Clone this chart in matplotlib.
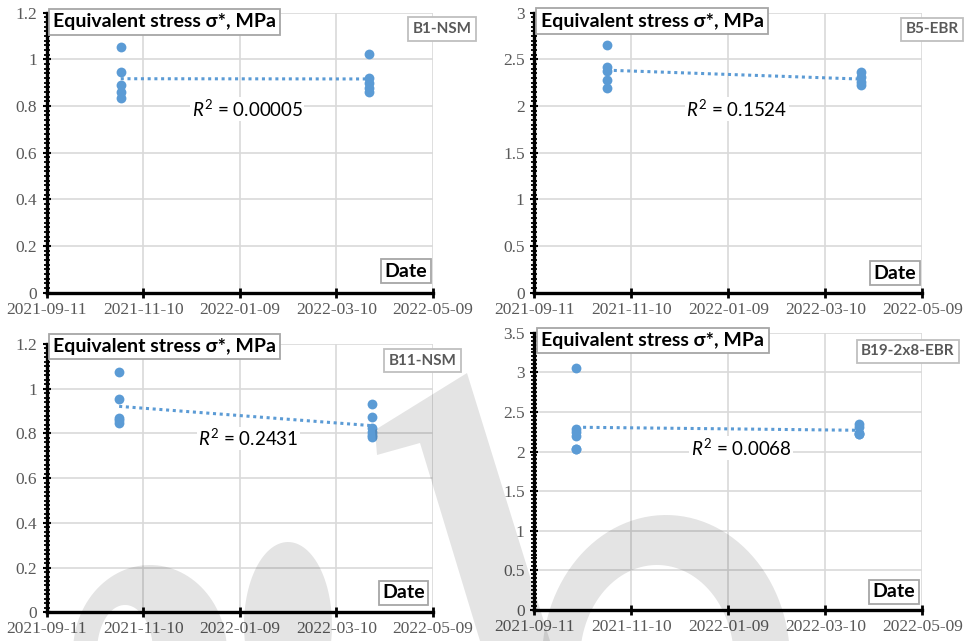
import matplotlib
matplotlib.use("Agg")
import matplotlib.pyplot as plt
import matplotlib.dates as mdates
from matplotlib.ticker import MultipleLocator, FuncFormatter
from matplotlib.patches import PathPatch
from matplotlib.path import Path
import numpy as np
import datetime as dt

plt.rcParams['font.family'] = ['Liberation Serif', 'DejaVu Serif']
plt.rcParams['mathtext.fontset'] = 'custom'
plt.rcParams['mathtext.rm'] = 'Lato'
plt.rcParams['mathtext.it'] = 'Lato:italic'

# ---- data ----
labels = ["B1-NSM", "B5-EBR", "B11-NSM", "B19-2x8-EBR"]
r2_labels = ["0.00005", "0.1524", "0.2431", "0.0068"]

b1_dates = ["2021-10-27"] * 5 + ["2022-03-30"] * 5
b1_vals = [1.053, 0.947, 0.89, 0.86, 0.835, 1.022, 0.922, 0.898, 0.878, 0.86]

b5_dates = ["2021-10-26"] * 5 + ["2022-04-01"] * 4
b5_vals = [2.65, 2.42, 2.38, 2.28, 2.19, 2.36, 2.31, 2.26, 2.225]

b11_dates = ["2021-10-26"] * 5 + ["2022-04-01"] * 6
b11_vals = [1.075, 0.955, 0.868, 0.86, 0.848, 0.93, 0.872, 0.823, 0.808, 0.793, 0.783]

b19_dates = ["2021-10-07"] * 6 + ["2022-03-31"] * 5
b19_vals = [3.05, 2.28, 2.25, 2.20, 2.03, 2.03, 2.35, 2.31, 2.24, 2.22, 2.22]

y_max = [1.2, 3.0, 1.2, 3.5]
y_step = [0.2, 0.5, 0.2, 0.5]
x_ticks = ["2021-09-11", "2021-11-10", "2022-01-09", "2022-03-10", "2022-05-09"]

series = [(b1_dates, b1_vals), (b5_dates, b5_vals), (b11_dates, b11_vals), (b19_dates, b19_vals)]

# ---- layout (figure fractions) ----
positions = [
    [0.0482, 0.5434, 0.3987, 0.4368],
    [0.5514, 0.5434, 0.4004, 0.4368],
    [0.0482, 0.0448, 0.3987, 0.4185],
    [0.5514, 0.0484, 0.4004, 0.4326],
]
title_pos = [(0.016, 0.967), (0.016, 0.97), (0.016, 0.99), (0.018, 0.972)]
label_pos = [(1.023, 0.942), (1.025, 0.94), (0.972, 0.938), (0.963, 0.933)]
date_pos = [(0.9295, 0.076), (0.93, 0.07), (0.924, 0.073), (0.927, 0.066)]
r2_pos = [(0.519, 0.656), (0.5216, 0.656), (0.522, 0.648), (0.533, 0.585)]

blue = "#5b9bd5"
grid_c = "#d9d9d9"
tick_c = "#595959"

W, H = 969, 641
fig = plt.figure(figsize=(W / 100, H / 100), dpi=100)

xt = [dt.datetime.strptime(s, "%Y-%m-%d") for s in x_ticks]

for i, (dates, vals) in enumerate(series):
    ax = fig.add_axes(positions[i])
    d = [dt.datetime.strptime(s, "%Y-%m-%d") for s in dates]
    xn = mdates.date2num(d)
    v = np.array(vals)
    ax.scatter(d, v, s=50, color=blue, zorder=4, linewidths=0)
    # linear trendline
    k, b = np.polyfit(xn, v, 1)
    xs = np.array([xn.min(), xn.max()])
    ax.plot(mdates.num2date(xs), k * xs + b, linestyle=(0, (1, 1.2)), color=blue,
            lw=2.2, zorder=3)

    ax.set_xlim(xt[0], xt[-1])
    ax.set_ylim(0, y_max[i])
    ax.set_xticks(xt)
    ax.xaxis.set_major_formatter(mdates.DateFormatter("%Y-%m-%d"))
    ax.yaxis.set_major_locator(MultipleLocator(y_step[i]))
    ax.yaxis.set_minor_locator(MultipleLocator(y_step[i] / 10))
    ax.yaxis.set_major_formatter(FuncFormatter(lambda val, p: f"{val:g}"))

    ax.grid(True, which="major", color=grid_c, lw=1.2, zorder=0)
    ax.set_axisbelow(True)
    for s in ["top", "right"]:
        ax.spines[s].set_visible(False)
    for s in ["left", "bottom"]:
        ax.spines[s].set_linewidth(2.4)
        ax.spines[s].set_color("black")
        ax.spines[s].set_zorder(5)

    ax.tick_params(axis="y", which="major", direction="inout", length=6, width=1.5,
                   color="black", labelsize=12.5, labelcolor=tick_c, pad=4)
    ax.tick_params(axis="y", which="minor", direction="inout", length=4, width=1.3,
                   color="black")
    ax.tick_params(axis="x", which="major", direction="inout", length=7, width=2,
                   color="black", labelsize=12.5, labelcolor=tick_c, pad=3)

    ax.text(title_pos[i][0], title_pos[i][1], "Equivalent stress σ*, MPa",
            transform=ax.transAxes, ha="left", va="center", fontsize=14,
            fontweight="bold", family="Lato", color="black",
            bbox=dict(facecolor="white", edgecolor="#a6a6a6", lw=1.3,
                      boxstyle="square,pad=0.22"), zorder=10, clip_on=False)
    ax.text(label_pos[i][0], label_pos[i][1], labels[i], transform=ax.transAxes,
            ha="center", va="center", fontsize=11, fontweight="bold", family="Lato",
            color="#595959", bbox=dict(facecolor="white", edgecolor="#bfbfbf", lw=1.3,
                                       boxstyle="square,pad=0.3"),
            zorder=10, clip_on=False)
    ax.text(date_pos[i][0], date_pos[i][1], "Date", transform=ax.transAxes,
            ha="center", va="center", fontsize=14, fontweight="bold", family="Lato",
            color="black", bbox=dict(facecolor="white", edgecolor="#a6a6a6", lw=1.3,
                                     boxstyle="square,pad=0.18"),
            zorder=10)
    ax.text(r2_pos[i][0], r2_pos[i][1], r"$R^2$ = " + r2_labels[i], transform=ax.transAxes,
            ha="center", va="center", fontsize=13.5, family="Lato", color="black",
            bbox=dict(facecolor="white", edgecolor="none", pad=1), zorder=6)


# ---- background watermark (light translucent shapes, pixel coords) ----
def ellipse_pts(cx, cy, a, b, n=120, reverse=False):
    t = np.linspace(0, 2 * np.pi, n)
    if reverse:
        t = t[::-1]
    return np.column_stack([cx + a * np.cos(t), cy + b * np.sin(t)])


def to_fig(pts):
    pts = np.asarray(pts, dtype=float)
    return np.column_stack([pts[:, 0] / W, 1 - pts[:, 1] / H])


def ring(outer, inner):
    o = to_fig(ellipse_pts(*outer))
    iv = to_fig(ellipse_pts(*inner, reverse=True))
    verts = np.vstack([o, o[:1], iv, iv[:1]])
    codes = ([Path.MOVETO] + [Path.LINETO] * (len(o) - 1) + [Path.CLOSEPOLY]
             + [Path.MOVETO] + [Path.LINETO] * (len(iv) - 1) + [Path.CLOSEPOLY])
    return Path(verts, codes)


wm_kw = dict(facecolor="black", edgecolor="none", alpha=0.105, transform=fig.transFigure,
             zorder=50)
shapes = [
    ring((150, 652, 77, 87), (125, 652, 28, 47)),
    Path(to_fig(ellipse_pts(288, 625, 44, 83))),
    Path(to_fig([(377, 455), (375, 430), (467, 373), (550, 641), (480, 641), (420, 443)]),
         closed=False),
    ring((666, 660, 124, 145), (657, 660, 77, 95)),
]
for p in shapes:
    fig.add_artist(PathPatch(p, **wm_kw))

fig.savefig("out.png", dpi=100)
